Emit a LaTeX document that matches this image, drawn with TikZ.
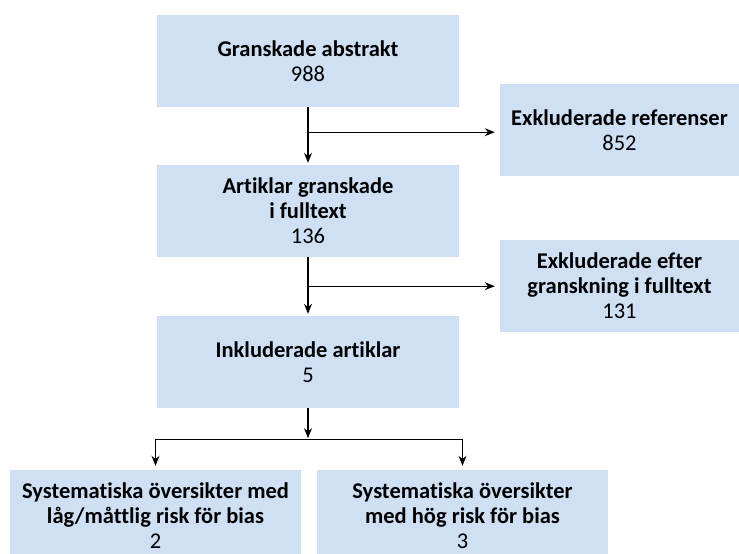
\documentclass[tikz,border=0pt]{standalone}
\usepackage{fontspec}
\setmainfont{Carlito}[Ligatures=NoCommon]
\usetikzlibrary{arrows.meta}
\definecolor{boxblue}{HTML}{CFE0F4}
\tikzset{
  box/.style={fill=boxblue, draw=none, align=center, minimum height=92pt, inner sep=0pt,
    font=\fontsize{22.5}{25}\selectfont},
  wide/.style={box, minimum width=302pt},
  side/.style={box, minimum width=239pt},
  low/.style={box, minimum width=291pt},
  arr/.style={draw=black, line width=1.2pt, -{Stealth[length=10pt,width=8pt]}},
  ln/.style={draw=black, line width=1.2pt}
}
\begin{document}
\begin{tikzpicture}[x=1pt,y=1pt]
\useasboundingbox[fill=white] (0,0) rectangle (739,-554);
\node[wide] (b1) at (308,-61) {\textbf{Granskade abstrakt}\\988};
\node[side] (b2) at (619.5,-130) {\textbf{Exkluderade referenser}\\852};
\node[wide] (b3) at (308,-211) {\textbf{Artiklar granskade}\\\textbf{i fulltext}\\136};
\node[side] (b4) at (619.5,-286) {\textbf{Exkluderade efter}\\\textbf{granskning i fulltext}\\131};
\node[wide] (b5) at (308,-362) {\textbf{Inkluderade artiklar}\\5};
\node[low] (b6) at (155.5,-516) {\textbf{Systematiska översikter med}\\\textbf{låg/måttlig risk för bias}\\2};
\node[low] (b7) at (462.5,-516) {\textbf{Systematiska översikter}\\\textbf{med hög risk för bias}\\3};
\coordinate (j1) at ([yshift=-25pt]b1.south);
\coordinate (j2) at ([yshift=-29pt]b3.south);
\coordinate (j3) at ([yshift=-31pt]b5.south);
\draw[arr, shorten >=2pt] (b1.south) -- (b3.north);
\draw[arr, shorten >=5pt] (j1) -- (j1 -| b2.west);
\draw[arr, shorten >=2pt] (b3.south) -- (b5.north);
\draw[arr, shorten >=5pt] (j2) -- (j2 -| b4.west);
\draw[arr, shorten >=1pt] (b5.south) -- (j3);
\draw[arr, shorten >=4pt] (j3) -| (b6.north);
\draw[arr, shorten >=4pt] (j3) -| (b7.north);
\end{tikzpicture}
\end{document}
